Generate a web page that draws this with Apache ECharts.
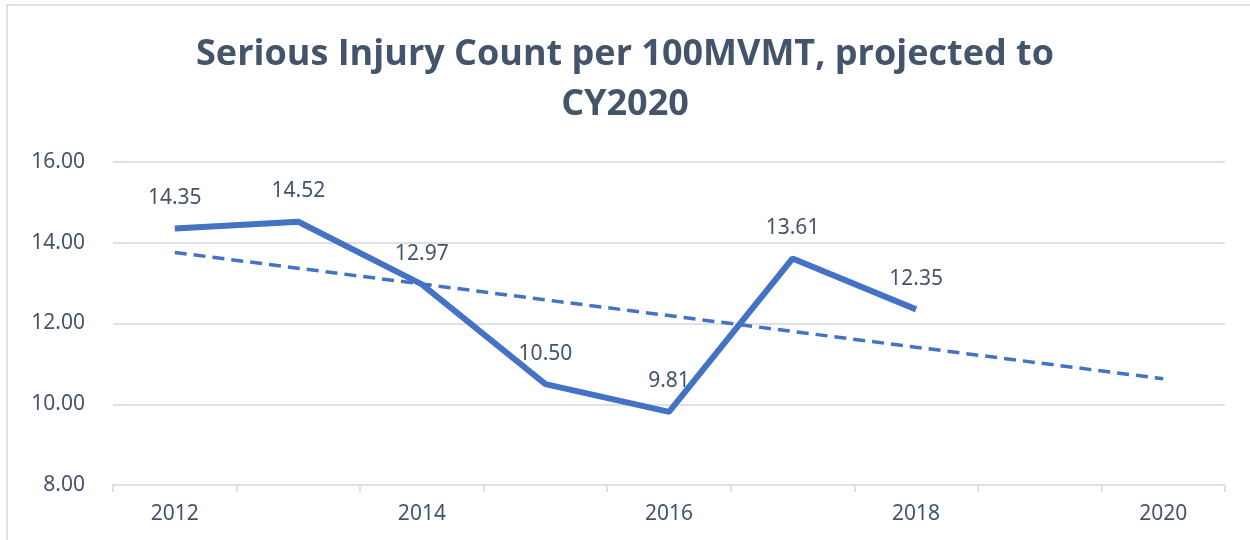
<!DOCTYPE html>
<html>
<head>
<meta charset="utf-8">
<script src="https://cdn.jsdelivr.net/npm/echarts@6/dist/echarts.min.js"></script>
<style>
  html, body { margin: 0; padding: 0; background: #fff; }
  #frame {
    position: absolute; left: 6px; top: 4px; width: 1260px; height: 550px;
    border-left: 2px solid #DEE2E8; border-top: 2px solid #DEE2E8;
  }
  #chart { position: absolute; left: 0; top: 0; width: 1250px; height: 540px; }
</style>
</head>
<body>
<div id="frame"></div>
<div id="chart"></div>
<script>
// Chart data
const years = ['2012', '2013', '2014', '2015', '2016', '2017', '2018', '2019', '2020'];
const injuryRate = [14.35, 14.52, 12.97, 10.50, 9.81, 13.61, 12.35, null, null];
// Trend line end points (dashed projection)
const trendRate = [13.76, null, null, null, null, null, null, null, 10.63];

const textColor = '#44546A';
const lineColor = '#4472C4';
const gridColor = '#DEE2E8';

const chart = echarts.init(document.getElementById('chart'));

const option = {
  animation: false,
  title: {
    text: 'Serious Injury Count per 100MVMT, projected to\nCY2020',
    left: 'center',
    top: 25,
    textStyle: {
      fontFamily: 'Open Sans',
      fontWeight: 'bold',
      fontSize: 36,
      lineHeight: 50,
      color: textColor
    }
  },
  grid: {
    left: 113,
    right: 25,
    top: 162,
    bottom: 55
  },
  xAxis: {
    type: 'category',
    data: years,
    boundaryGap: true,
    axisLine: { lineStyle: { color: gridColor, width: 2 } },
    axisTick: { show: true, interval: 0, length: 7, lineStyle: { color: gridColor, width: 2 } },
    axisLabel: {
      interval: 1,
      margin: 19,
      color: textColor,
      fontFamily: 'Noto Sans',
      fontSize: 21
    }
  },
  yAxis: {
    type: 'value',
    min: 8,
    max: 16,
    interval: 2,
    axisLine: { show: false },
    axisTick: { show: false },
    splitLine: { lineStyle: { color: gridColor, width: 2 } },
    axisLabel: {
      margin: 28,
      color: textColor,
      fontFamily: 'Noto Sans',
      fontSize: 21,
      formatter: v => v.toFixed(2)
    }
  },
  series: [
    {
      name: 'Serious Injury Rate',
      type: 'line',
      data: injuryRate,
      symbol: 'circle',
      symbolSize: 0,
      showSymbol: true,
      itemStyle: { color: lineColor },
      lineStyle: { color: lineColor, width: 6 },
      label: {
        show: true,
        position: 'top',
        distance: 20,
        color: textColor,
        fontFamily: 'Noto Sans',
        fontSize: 21,
        formatter: p => (p.value == null ? '' : Number(p.value).toFixed(2))
      },
      z: 3
    },
    {
      name: 'Trend',
      type: 'line',
      data: trendRate,
      connectNulls: true,
      symbol: 'none',
      lineStyle: { color: lineColor, width: 3.5, type: [12, 7] },
      z: 2
    }
  ]
};

chart.setOption(option);
</script>
</body>
</html>
